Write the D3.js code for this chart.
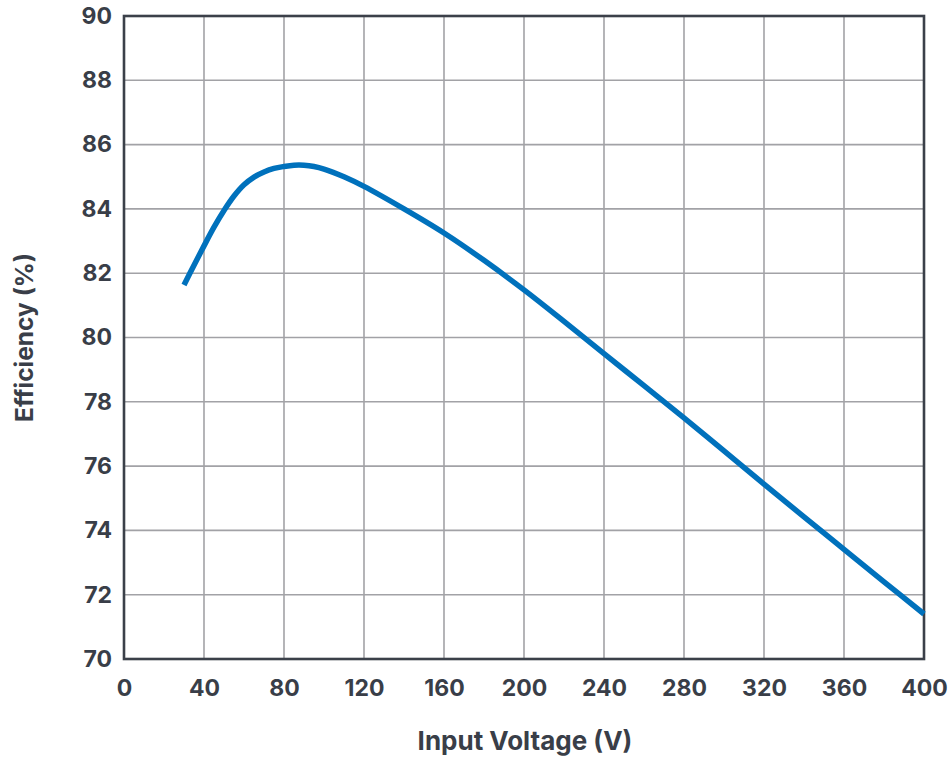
<!DOCTYPE html>
<html>
<head>
<meta charset="utf-8">
<script src="https://cdn.jsdelivr.net/npm/d3@7"></script>
<style>
  html, body { margin: 0; padding: 0; background: #fff; }
  svg { display: block; }
  text { font-family: Inter, "Liberation Sans", Arial, sans-serif; font-weight: bold; fill: #393e48; }
</style>
</head>
<body>
<svg id="chart" width="952" height="769"></svg>
<script>
const voltage = [30, 35, 40, 45, 50, 55, 60, 65, 70, 75, 80, 85, 90, 95, 100, 110, 120, 140, 160, 180, 200, 220, 240, 260, 280, 300, 320, 340, 360, 380, 400];
const efficiency = [81.63, 82.25, 82.85, 83.43, 83.95, 84.4, 84.75, 84.99, 85.15, 85.26, 85.32, 85.36, 85.36, 85.32, 85.24, 85.0, 84.7, 84.0, 83.25, 82.4, 81.48, 80.5, 79.5, 78.5, 77.5, 76.47, 75.44, 74.42, 73.41, 72.4, 71.4];
const xTicks = [0, 40, 80, 120, 160, 200, 240, 280, 320, 360, 400];
const yTicks = [70, 72, 74, 76, 78, 80, 82, 84, 86, 88, 90];
const xTitle = "Input Voltage (V)";
const yTitle = "Efficiency (%)";

const svg = d3.select("#chart");
const pL = 124, pR = 924, pT = 16, pB = 659;
const x = d3.scaleLinear().domain([0, 400]).range([pL, pR]);
const y = d3.scaleLinear().domain([70, 90]).range([pB, pT]);
const FONT = "Inter, 'Liberation Sans', Arial, sans-serif";

// grid
const grid = svg.append("g");
grid.selectAll("line.v").data(xTicks.slice(1, -1)).enter().append("line")
  .attr("x1", d => x(d)).attr("x2", d => x(d)).attr("y1", pT).attr("y2", pB)
  .attr("stroke", "#a2a2a6").attr("stroke-width", 1.6);
grid.selectAll("line.h").data(yTicks.slice(1, -1)).enter().append("line")
  .attr("x1", pL).attr("x2", pR).attr("y1", d => y(d)).attr("y2", d => y(d))
  .attr("stroke", "#a2a2a6").attr("stroke-width", 1.6);

// border
svg.append("rect").attr("x", pL).attr("y", pT).attr("width", pR - pL).attr("height", pB - pT)
  .attr("fill", "none").attr("stroke", "#3b4049").attr("stroke-width", 2.6);

// axes labels via d3 axes
const xAxis = svg.append("g").attr("transform", `translate(0,${pB})`)
  .call(d3.axisBottom(x).tickValues(xTicks).tickSize(0).tickPadding(21));
xAxis.select(".domain").remove();
xAxis.selectAll("text").attr("font-size", 23).style("font-family", FONT).style("font-weight", "bold").attr("fill", "#393e48");

const yAxis = svg.append("g").attr("transform", `translate(${pL},0)`)
  .call(d3.axisLeft(y).tickValues(yTicks).tickSize(0).tickPadding(12));
yAxis.select(".domain").remove();
yAxis.selectAll("text").attr("font-size", 23).style("font-family", FONT).style("font-weight", "bold").attr("fill", "#393e48");

// titles
svg.append("text").attr("x", 525).attr("y", 750).attr("text-anchor", "middle")
  .attr("font-size", 26).text(xTitle);
svg.append("text").attr("transform", `translate(33,${(pT + pB) / 2}) rotate(-90)`)
  .attr("text-anchor", "middle").attr("font-size", 24.5).text(yTitle);

// curve
const data = voltage.map((v, i) => [v, efficiency[i]]);
svg.append("path").datum(data)
  .attr("fill", "none").attr("stroke", "#0071bc").attr("stroke-width", 5.5)
  .attr("d", d3.line().x(d => x(d[0])).y(d => y(d[1])).curve(d3.curveCatmullRom.alpha(0.5)));
</script>
</body>
</html>
